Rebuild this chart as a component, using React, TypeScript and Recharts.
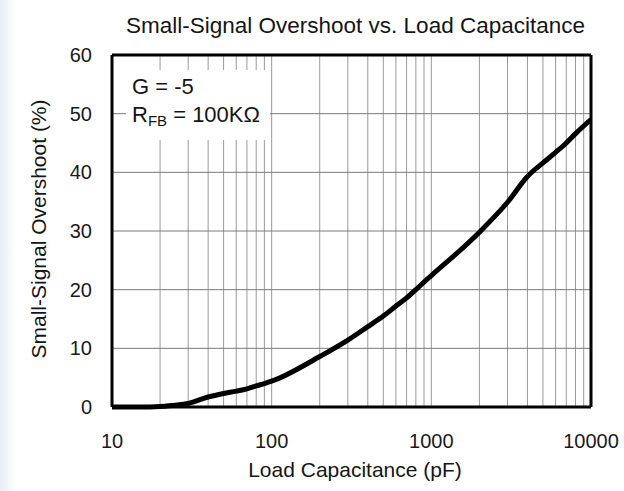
import React from "react";
import { LineChart, Line, XAxis, YAxis, ReferenceLine } from "recharts";

const capacitance = [10, 15, 20, 25, 30, 40, 50, 60, 70, 80, 90, 100, 200, 300, 400, 500, 600, 700, 800, 900, 1000, 2000, 3000, 4000, 5000, 6000, 7000, 8000, 9000, 10000];
const overshoot = [0, 0, 0.1, 0.3, 0.6, 1.7, 2.3, 2.7, 3.1, 3.6, 4.0, 4.4, 8.6, 11.4, 13.7, 15.5, 17.2, 18.6, 20.0, 21.3, 22.4, 29.8, 34.9, 39.3, 41.6, 43.4, 45.0, 46.6, 47.9, 49.0];

const xTicks = [10, 100, 1000, 10000];
const yTicks = [0, 10, 20, 30, 40, 50, 60];
const xGrid = [20, 30, 40, 50, 60, 70, 80, 90, 100, 200, 300, 400, 500, 600, 700, 800, 900, 1000, 2000, 3000, 4000, 5000, 6000, 7000, 8000, 9000];
const yGrid = [10, 20, 30, 40, 50];

const title = "Small-Signal Overshoot vs. Load Capacitance";
const xLabel = "Load Capacitance (pF)";
const yLabel = "Small-Signal Overshoot (%)";

const data = capacitance.map((c, i) => ({ c, v: overshoot[i] }));

const FONT = '"Liberation Sans", Arial, sans-serif';

export default function App() {
  return (
    <div style={{ position: "absolute", left: 0, top: 0, width: 624, height: 491, background: "#fff", fontFamily: FONT, overflow: "hidden" }}>
      <div style={{ position: "absolute", left: 0, top: 0, width: 16, height: 491, background: "linear-gradient(to right, #e6edf6, #ffffff)" }} />
      <LineChart width={624} height={491} data={data} margin={{ top: 55, right: 33, bottom: 54, left: 52 }}>
        {xGrid.map((g) => (
          <ReferenceLine key={"x" + g} x={g} stroke="#9a9a9a" strokeWidth={1} />
        ))}
        {yGrid.map((g) => (
          <ReferenceLine key={"y" + g} y={g} stroke="#7a7a7a" strokeWidth={1} />
        ))}
        <XAxis
          dataKey="c"
          type="number"
          scale="log"
          domain={[10, 10000]}
          ticks={xTicks}
          allowDataOverflow
          axisLine={false}
          tickLine={false}
          tickMargin={21}
          height={30}
          tick={{ fontSize: 20, fill: "#1a1a1a", fontFamily: FONT }}
        />
        <YAxis
          type="number"
          domain={[0, 60]}
          ticks={yTicks}
          axisLine={false}
          tickLine={false}
          tickMargin={14}
          width={60}
          tick={{ fontSize: 20, fill: "#1a1a1a", fontFamily: FONT }}
        />
        <Line type="monotone" dataKey="v" stroke="#000" strokeWidth={5} dot={false} isAnimationActive={false} />
        <ReferenceLine x={10} stroke="#000" strokeWidth={3} />
        <ReferenceLine x={10000} stroke="#000" strokeWidth={3} />
        <ReferenceLine y={0} stroke="#000" strokeWidth={3} />
        <ReferenceLine y={60} stroke="#000" strokeWidth={3} />
      </LineChart>
      <div style={{ position: "absolute", left: 126, top: 70, width: 144, height: 70, background: "#fff" }} />
      <svg width={624} height={491} style={{ position: "absolute", left: 0, top: 0, pointerEvents: "none" }}>
        <g fontFamily={FONT} fill="#151515">
          <text x={132} y={94} fontSize={22}>G = -5</text>
          <text x={132} y={122} fontSize={22}>
            R<tspan fontSize={15} dy={4}>FB</tspan>
            <tspan dy={-4}> = 100KΩ</tspan>
          </text>
          <text x={355.5} y={33} fontSize={22.5} textAnchor="middle">{title}</text>
          <text x={355} y={477} fontSize={21} textAnchor="middle">{xLabel}</text>
          <text x={46} y={229} fontSize={21} textAnchor="middle" transform="rotate(-90 46 229)">{yLabel}</text>
        </g>
      </svg>
    </div>
  );
}
